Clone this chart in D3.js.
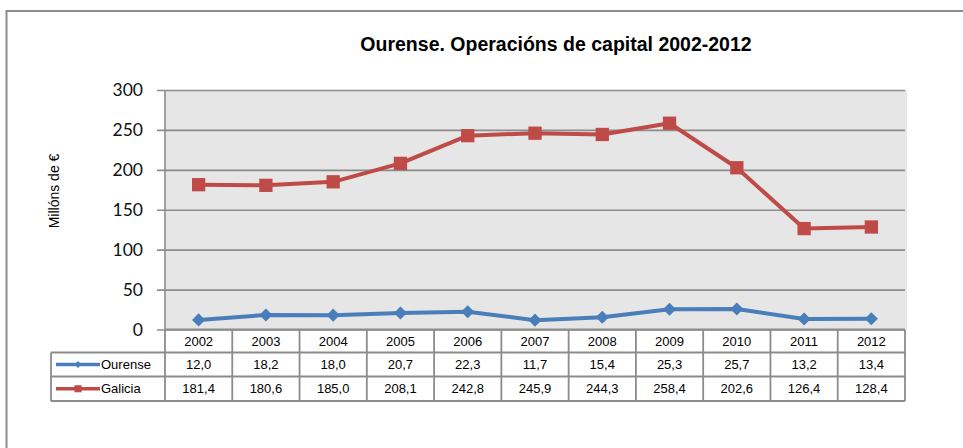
<!DOCTYPE html>
<html>
<head>
<meta charset="utf-8">
<script src="https://cdn.jsdelivr.net/npm/d3@7/dist/d3.min.js"></script>
<style>
  html, body { margin: 0; padding: 0; background: #fff; }
  svg { display: block; }
</style>
</head>
<body>
<svg id="chart" width="963" height="448"></svg>
<script>
// Capital operations, Ourense vs Galicia (millions of euros)
const years = ["2002","2003","2004","2005","2006","2007","2008","2009","2010","2011","2012"];
const ourense = [12.0, 18.2, 18.0, 20.7, 22.3, 11.7, 15.4, 25.3, 25.7, 13.2, 13.4];
const galicia = [181.4, 180.6, 185.0, 208.1, 242.8, 245.9, 244.3, 258.4, 202.6, 126.4, 128.4];
const yTicks = [0, 50, 100, 150, 200, 250, 300];

const seriesList = [
  { name: "Ourense", values: ourense, color: "#4A7EBB", marker: "diamond" },
  { name: "Galicia", values: galicia, color: "#BE4B48", marker: "square" }
];

const svg = d3.select("#chart");
const plot = { left: 165, right: 905, top: 90, bottom: 329.5 };

const x = d3.scaleBand().domain(years).range([plot.left, plot.right]);
const y = d3.scaleLinear().domain([0, 300]).range([plot.bottom, plot.top]);

// outer frame (left and top edges)
svg.append("path")
  .attr("d", "M6.5,448 V11 H963")
  .attr("fill", "none").attr("stroke", "#8c8c8c").attr("stroke-width", 2);

// title
svg.append("text")
  .attr("x", 556).attr("y", 51)
  .attr("text-anchor", "middle")
  .attr("font-family", "Liberation Sans, Arial, sans-serif")
  .attr("font-weight", "bold").attr("font-size", 19.5)
  .text("Ourense. Operacións de capital 2002-2012");

// plot background
svg.append("rect")
  .attr("x", plot.left).attr("y", plot.top)
  .attr("width", plot.right - plot.left + 2).attr("height", plot.bottom - plot.top)
  .attr("fill", "#e6e6e6");

// y axis with gridlines
const yAxis = d3.axisLeft(y).tickValues(yTicks).tickSize(0).tickPadding(22);
const gy = svg.append("g").attr("transform", `translate(${plot.left},0)`).call(yAxis);
gy.select(".domain").remove();
gy.selectAll("text")
  .attr("font-family", "Lato, 'Open Sans', sans-serif")
  .attr("font-size", 17.5).attr("fill", "#111");
gy.selectAll(".tick").append("line")
  .attr("x1", -8).attr("x2", plot.right - plot.left)
  .attr("stroke", "#8c8c8c").attr("stroke-width", 1.6);

svg.append("line")
  .attr("x1", plot.left).attr("x2", plot.left)
  .attr("y1", plot.top).attr("y2", plot.bottom)
  .attr("stroke", "#8c8c8c").attr("stroke-width", 1.6);

// y axis title
svg.append("text")
  .attr("transform", "translate(59,191) rotate(-90)")
  .attr("text-anchor", "middle")
  .attr("font-family", "Liberation Sans, Arial, sans-serif")
  .attr("font-size", 14)
  .text("Millóns de €");

// series lines and markers
const cx = d => x(d) + x.bandwidth() / 2;
const line = d3.line().x((v, i) => cx(years[i])).y(v => y(v));

seriesList.forEach(sr => {
  svg.append("path")
    .attr("d", line(sr.values))
    .attr("fill", "none").attr("stroke", sr.color)
    .attr("stroke-width", 4).attr("stroke-linejoin", "round");
  svg.append("g").selectAll("path")
    .data(sr.values).join("path")
    .attr("d", sr.marker === "diamond" ? d3.symbol(d3.symbolSquare2, 110)() : d3.symbol(d3.symbolSquare2, 225)())
    .attr("transform", (v, i) => `translate(${cx(years[i])},${y(v)})` + (sr.marker === "diamond" ? " rotate(45)" : ""))
    .attr("fill", sr.color);
});

// data table
const rowTop = [plot.bottom, 352.5, 376.5];
const rowBot = [352.5, 376.5, 401];
const tableLeft = 51;
const fmt = v => v.toFixed(1).replace(".", ",");
const tFont = "Liberation Sans, Arial, sans-serif";
const gridCol = "#8c8c8c";
const tg = svg.append("g");

// horizontal rules
[rowTop[1], rowTop[2], rowBot[2]].forEach(ry => {
  tg.append("line").attr("x1", tableLeft).attr("x2", plot.right)
    .attr("y1", ry).attr("y2", ry).attr("stroke", gridCol).attr("stroke-width", 1.8);
});
tg.append("line").attr("x1", plot.left).attr("x2", plot.right)
  .attr("y1", plot.bottom).attr("y2", plot.bottom).attr("stroke", gridCol).attr("stroke-width", 1.8);

// vertical rules
const bounds = years.map(d => x(d)).concat([plot.right]);
bounds.forEach(bx => {
  tg.append("line").attr("x1", bx).attr("x2", bx)
    .attr("y1", plot.bottom).attr("y2", rowBot[2])
    .attr("stroke", gridCol).attr("stroke-width", 1.8);
});
tg.append("line").attr("x1", tableLeft).attr("x2", tableLeft)
  .attr("y1", rowTop[1]).attr("y2", rowBot[2])
  .attr("stroke", gridCol).attr("stroke-width", 1.8);

// header row: years
tg.selectAll("text.yr").data(years).join("text")
  .attr("class", "yr")
  .attr("x", d => cx(d)).attr("y", (rowTop[0] + rowBot[0]) / 2 + 4.5)
  .attr("text-anchor", "middle")
  .attr("font-family", tFont).attr("font-size", 13)
  .text(d => d);

// value rows with legend keys
seriesList.forEach((sr, r) => {
  const ym = (rowTop[r + 1] + rowBot[r + 1]) / 2;
  tg.selectAll(null).data(sr.values).join("text")
    .attr("x", (v, i) => cx(years[i])).attr("y", ym + 4.5)
    .attr("text-anchor", "middle")
    .attr("font-family", tFont).attr("font-size", 13)
    .text(v => fmt(v));
  tg.append("line").attr("x1", 56).attr("x2", 100)
    .attr("y1", ym).attr("y2", ym)
    .attr("stroke", sr.color).attr("stroke-width", 3.5);
  tg.append("path")
    .attr("transform", `translate(78,${ym})` + (sr.marker === "diamond" ? " rotate(45)" : ""))
    .attr("d", sr.marker === "diamond" ? d3.symbol(d3.symbolSquare2, 30)() : d3.symbol(d3.symbolSquare2, 64)())
    .attr("fill", sr.color);
  tg.append("text")
    .attr("x", 101).attr("y", ym + 4.5)
    .attr("font-family", tFont).attr("font-size", 13)
    .text(sr.name);
});
</script>
</body>
</html>
